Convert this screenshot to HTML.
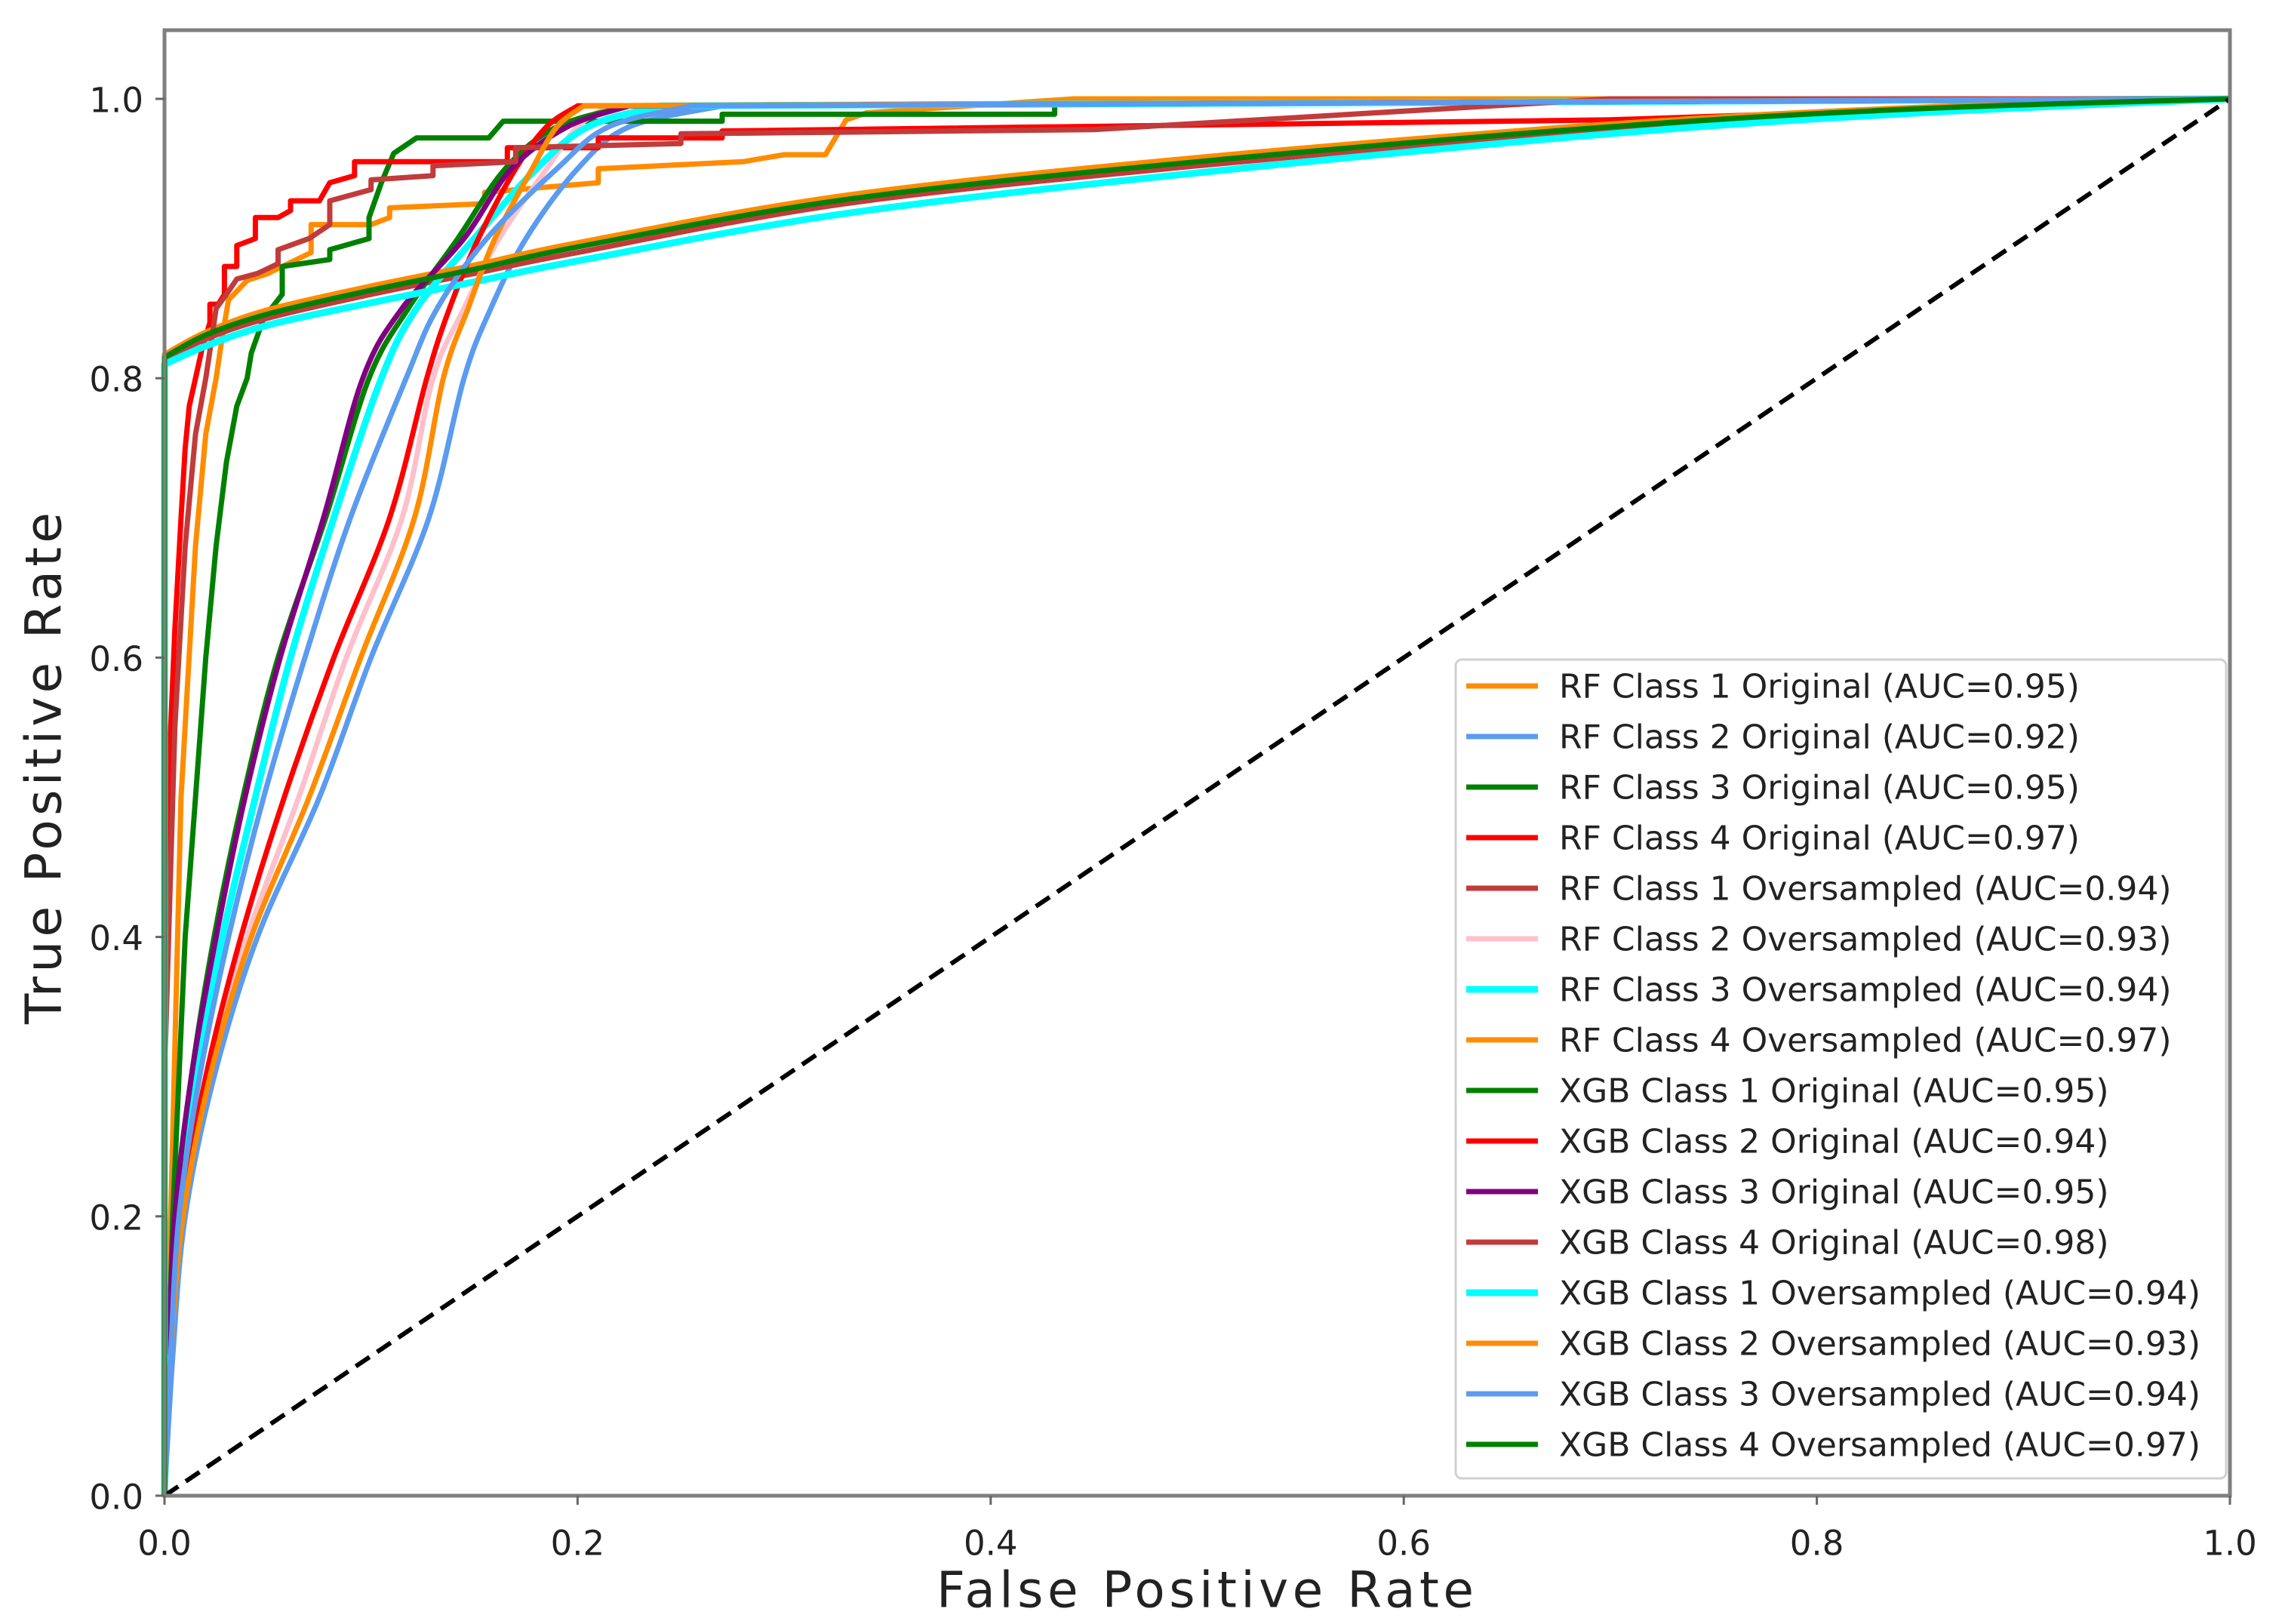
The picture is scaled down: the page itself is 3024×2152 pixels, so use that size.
<!DOCTYPE html>
<html><head><meta charset="utf-8"><style>
html,body{margin:0;padding:0;background:#fff;}
svg{display:block;}
text{font-family:"DejaVu Sans","Liberation Sans",sans-serif;fill:#222;}
</style></head><body>
<svg id="chart" width="3024" height="2152" viewBox="0 0 3024 2152">
<rect x="0" y="0" width="3024" height="2152" fill="#fff"/>
<g id="plot"></g>
<g id="axes"></g>
<g id="legend"></g>
<text x="1597" y="2107" font-size="66" text-anchor="middle" dominant-baseline="central" textLength="712">False Positive Rate</text>
<text x="58" y="1018" font-size="66" text-anchor="middle" dominant-baseline="central" textLength="678" transform="rotate(-90 58 1018)">True Positive Rate</text>
</svg>
<script>
// tick labels
const xTicks = [0, 0.2, 0.4, 0.6, 0.8, 1.0];
const yTicks = [0, 0.2, 0.4, 0.6, 0.8, 1.0];
const xTickLabels = ["0.0","0.2","0.4","0.6","0.8","1.0"];
const yTickLabels = ["0.0","0.2","0.4","0.6","0.8","1.0"];

// series labels
const seriesLabels = ["RF Class 1 Original (AUC=0.95)","RF Class 2 Original (AUC=0.92)","RF Class 3 Original (AUC=0.95)","RF Class 4 Original (AUC=0.97)","RF Class 1 Oversampled (AUC=0.94)","RF Class 2 Oversampled (AUC=0.93)","RF Class 3 Oversampled (AUC=0.94)","RF Class 4 Oversampled (AUC=0.97)","XGB Class 1 Original (AUC=0.95)","XGB Class 2 Original (AUC=0.94)","XGB Class 3 Original (AUC=0.95)","XGB Class 4 Original (AUC=0.98)","XGB Class 1 Oversampled (AUC=0.94)","XGB Class 2 Oversampled (AUC=0.93)","XGB Class 3 Oversampled (AUC=0.94)","XGB Class 4 Oversampled (AUC=0.97)"];

// step curves (original)
const fprRF1Orig = [0,0.003,0.008,0.015,0.02,0.025,0.028,0.031,0.04,0.05,0.071,0.071,0.1,0.109,0.109,0.155,0.155,0.21,0.21,0.28,0.3,0.32,0.33,0.34,0.44,1];
const tprRF1Orig = [0,0.2,0.5,0.68,0.76,0.8,0.83,0.856,0.87,0.875,0.89,0.91,0.91,0.915,0.922,0.925,0.933,0.94,0.95,0.955,0.96,0.96,0.985,0.99,1,1];
const fprRF3Orig = [0,0.004,0.01,0.015,0.02,0.025,0.03,0.035,0.04,0.042,0.048,0.057,0.057,0.08,0.08,0.099,0.099,0.105,0.111,0.122,0.157,0.164,0.27,0.27,0.431,0.431,1];
const tprRF3Orig = [0,0.2,0.4,0.5,0.6,0.68,0.74,0.78,0.8,0.818,0.843,0.86,0.88,0.885,0.892,0.9,0.915,0.94,0.961,0.972,0.972,0.984,0.984,0.989,0.989,0.996,1];
const fprRF4Orig = [0,0,0.003,0.005,0.008,0.01,0.012,0.015,0.018,0.022,0.022,0.026,0.029,0.029,0.035,0.035,0.044,0.044,0.055,0.061,0.061,0.075,0.08,0.092,0.092,0.166,0.166,0.21,0.21,0.27,0.27,0.7,1];
const tprRF4Orig = [0,0.4,0.55,0.62,0.7,0.75,0.78,0.8,0.82,0.84,0.853,0.853,0.86,0.88,0.88,0.895,0.9,0.915,0.915,0.92,0.927,0.927,0.94,0.945,0.955,0.955,0.965,0.965,0.972,0.972,0.977,0.985,1];
const fprXGB4Orig = [0,0,0.005,0.01,0.015,0.02,0.023,0.025,0.03,0.035,0.045,0.055,0.055,0.07,0.08,0.08,0.1,0.1,0.13,0.13,0.17,0.17,0.25,0.25,0.45,0.7,1];
const tprXGB4Orig = [0,0.3,0.55,0.68,0.76,0.8,0.83,0.85,0.86,0.871,0.875,0.882,0.892,0.9,0.91,0.927,0.935,0.942,0.945,0.952,0.955,0.965,0.968,0.975,0.978,1,1];

// concave curves (shared TPR grid)
const tprGrid = [0,0.1,0.2,0.3,0.4,0.5,0.6,0.7,0.8,0.85,0.9,0.95,0.98,0.995,1];
const fprXGB3Orig = [0,0.002,0.005,0.013,0.025,0.039,0.056,0.077,0.096,0.115,0.145,0.168,0.195,0.225,1];
const fprXGB1Orig = [0,0.002,0.005,0.013,0.024,0.038,0.055,0.078,0.099,0.118,0.142,0.165,0.19,0.225,1];
const fprRF3Over  = [0,0.002,0.006,0.015,0.028,0.044,0.061,0.082,0.105,0.122,0.15,0.18,0.205,0.24,1];
const fprXGB3Over = [0,0.003,0.007,0.017,0.031,0.048,0.068,0.09,0.117,0.132,0.156,0.19,0.215,0.255,1];
const fprXGB2Orig = [0,0.003,0.008,0.02,0.037,0.058,0.082,0.109,0.127,0.138,0.152,0.17,0.185,0.2,1];
const fprRF2Over  = [0,0.003,0.008,0.021,0.04,0.065,0.088,0.115,0.13,0.145,0.162,0.185,0.2,0.215,1];
const fprXGB2Over = [0,0.003,0.009,0.022,0.042,0.07,0.095,0.121,0.135,0.147,0.16,0.178,0.19,0.203,1];
const fprRF2Orig  = [0,0.004,0.01,0.024,0.045,0.075,0.1,0.128,0.145,0.158,0.175,0.2,0.225,0.27,1];

// smooth high-start curves
const fprSmooth = [0,0,0.02,0.05,0.1,0.15,0.2,0.33,0.5,0.7,0.85,1];
const tprRF1Over  = [0,0.813,0.828,0.843,0.86,0.875,0.89,0.925,0.952,0.978,0.992,1];
const tprRF4Over  = [0,0.817,0.833,0.849,0.866,0.881,0.897,0.931,0.958,0.982,0.994,1];
const tprXGB1Over = [0,0.81,0.823,0.838,0.854,0.869,0.884,0.918,0.947,0.975,0.99,1];
const tprXGB4Over = [0,0.815,0.831,0.846,0.863,0.878,0.894,0.928,0.955,0.98,0.993,1];

const ORANGE="#ff8c00", BLUE="#5b9bf0", GREEN="#008000", RED="#ff0000", BROWN="#c23b3b", PINK="#ffc0cb", CYAN="#00ffff", PURPLE="#800080";
const seriesColors = [ORANGE,BLUE,GREEN,RED,BROWN,PINK,CYAN,ORANGE,GREEN,RED,PURPLE,BROWN,CYAN,ORANGE,BLUE,GREEN];
const seriesX = [fprRF1Orig,fprRF2Orig,fprRF3Orig,fprRF4Orig,fprSmooth,fprRF2Over,fprRF3Over,fprSmooth,fprXGB1Orig,fprXGB2Orig,fprXGB3Orig,fprXGB4Orig,fprSmooth,fprXGB2Over,fprXGB3Over,fprSmooth];
const seriesY = [tprRF1Orig,tprGrid,tprRF3Orig,tprRF4Orig,tprRF1Over,tprGrid,tprGrid,tprRF4Over,tprGrid,tprGrid,tprGrid,tprXGB4Orig,tprXGB1Over,tprGrid,tprGrid,tprXGB4Over];
// 0 = step polyline, 1 = smooth curve then straight to (1,1), 2 = vertical start then smooth curve
const seriesKind = [0,1,0,0,2,1,1,2,1,1,1,0,2,1,1,2];

const NS="http://www.w3.org/2000/svg";
const L=218,R=2955,T=40,B=1982, Y0=1982, Y1=131;
function sx(v){return L+v*(R-L);}
function sy(v){return Y0-v*(Y0-Y1);}
function mk(tag,attrs,parent){const e=document.createElementNS(NS,tag);for(const k in attrs)e.setAttribute(k,attrs[k]);parent.appendChild(e);return e;}
function crPath(p){
  let d="M"+p[0][0].toFixed(1)+","+p[0][1].toFixed(1);
  for(let i=0;i<p.length-1;i++){
    const p0=p[i-1]||p[i], p1=p[i], p2=p[i+1], p3=p[i+2]||p[i+1];
    const c1=[p1[0]+(p2[0]-p0[0])/6, p1[1]+(p2[1]-p0[1])/6];
    const c2=[p2[0]-(p3[0]-p1[0])/6, p2[1]-(p3[1]-p1[1])/6];
    d+=" C"+c1[0].toFixed(1)+","+c1[1].toFixed(1)+" "+c2[0].toFixed(1)+","+c2[1].toFixed(1)+" "+p2[0].toFixed(1)+","+p2[1].toFixed(1);
  }
  return d;
}

const plot=document.getElementById('plot');
const axes=document.getElementById('axes');
const legend=document.getElementById('legend');

for(let i=0;i<seriesLabels.length;i++){
  const xs=seriesX[i], ys=seriesY[i];
  const P=xs.map((x,j)=>[sx(x),sy(ys[j])]);
  const w = seriesColors[i]===CYAN ? 9 : 7;
  let d;
  if(seriesKind[i]===0){
    d="M"+P.map(p=>p[0].toFixed(1)+","+p[1].toFixed(1)).join(" L");
  } else if(seriesKind[i]===1){
    const last=P[P.length-1];
    d=crPath(P.slice(0,-1))+" L"+last[0].toFixed(1)+","+last[1].toFixed(1);
  } else {
    d="M"+P[0][0].toFixed(1)+","+P[0][1].toFixed(1)+" "+crPath(P.slice(1)).replace(/^M/,"L");
  }
  const pl=mk('path',{d:d,fill:'none',stroke:seriesColors[i],'stroke-width':w,'stroke-linejoin':'round','stroke-linecap':'butt'},plot);
  
  
}
const diag=mk('line',{x1:sx(0),y1:sy(0),x2:sx(1),y2:sy(1),stroke:'#000','stroke-width':6,'stroke-dasharray':'22 12'},plot);



const frame=mk('rect',{x:L,y:T,width:R-L,height:B-T,fill:'none',stroke:'#7f7f7f','stroke-width':5},axes);



xTicks.forEach((v,i)=>{
  const t=mk('line',{x1:sx(v),y1:B,x2:sx(v),y2:B+12,stroke:'#666','stroke-width':3},axes);
  
  
  const lb=mk('text',{x:sx(v),y:2045,'font-size':45,'text-anchor':'middle','dominant-baseline':'central'},axes);
  lb.textContent=xTickLabels[i];
  
  
});
yTicks.forEach((v,i)=>{
  const t=mk('line',{x1:L-12,y1:sy(v),x2:L,y2:sy(v),stroke:'#666','stroke-width':3},axes);
  
  
  const lb=mk('text',{x:190,y:sy(v)+2,'font-size':45,'text-anchor':'end','dominant-baseline':'central'},axes);
  lb.textContent=yTickLabels[i];
  
  
});

const box=mk('rect',{x:1929,y:874,width:1021,height:1085,rx:8,fill:'#fff','fill-opacity':0.85,stroke:'#d0d0d0','stroke-width':3},legend);


seriesLabels.forEach((lab,i)=>{
  const y=909+i*67.0;
  const h=mk('line',{x1:1943,y1:y,x2:2038,y2:y,stroke:seriesColors[i],'stroke-width':seriesColors[i]===CYAN?9:7},legend);
  
  
  const tx=mk('text',{x:2066,y:y+1,'font-size':44,'dominant-baseline':'central'},legend);
  tx.textContent=lab;
  
  
});
</script>
</body></html>
